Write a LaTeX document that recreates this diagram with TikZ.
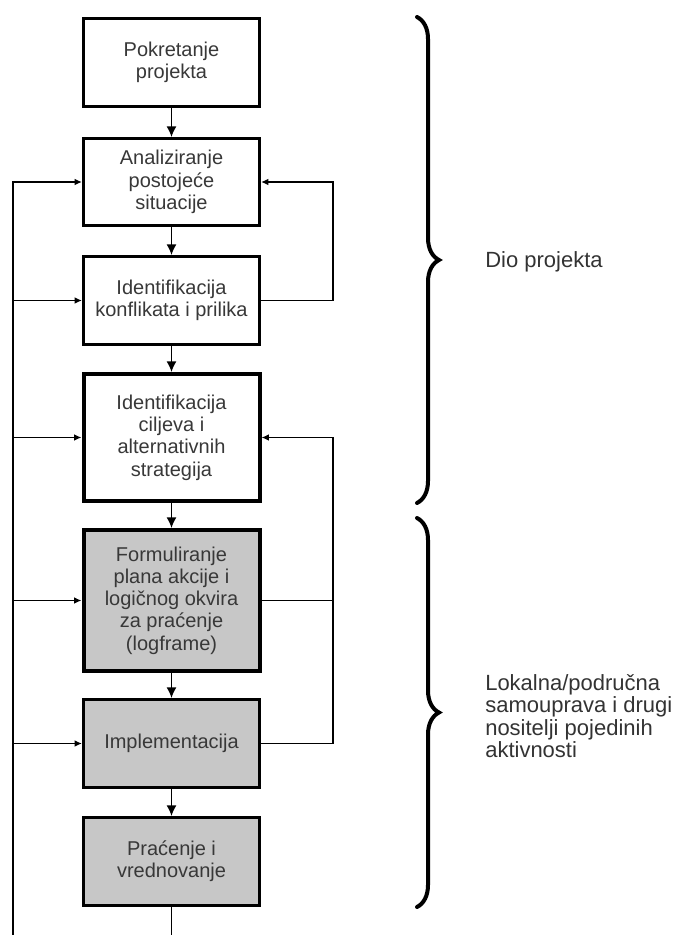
\documentclass[tikz,border=0pt]{standalone}
\usepackage{fontspec}
\setmainfont{Liberation Sans}
\usetikzlibrary{arrows.meta,decorations.pathreplacing}
\begin{document}
\begin{tikzpicture}[x=0.75pt,y=-0.75pt,line join=miter,
  stage/.style={draw=black,line width=2.25pt,minimum width=132pt,minimum height=66pt,
    inner sep=0pt,align=center,text=black!78,font=\fontsize{15}{16.7}\selectfont},
  stagegray/.style={stage,fill=black!22},
  flow/.style={line width=1.1pt,-{Latex[length=8pt,width=7.5pt]}},
  feed/.style={line width=1.1pt,-{Latex[length=5.5pt,width=5pt]}},
  link/.style={line width=1.1pt},
  bracket/.style={line width=3pt,line cap=round,decorate,
    decoration={brace,amplitude=16.5pt,aspect=0.5}},
  side/.style={anchor=west,inner sep=0pt,align=left,text=black!80,
    font=\fontsize{16.5}{16.9}\selectfont}]
  \useasboundingbox (0,0) rectangle (679,935);
  % main chain
  \node[stage] (b1) at (171.5,62.5) {Pokretanje\\projekta};
  \node[stage,minimum height=65.25pt] (b2) at (171.5,182) {Analiziranje\\postoje\'{c}e\\situacije};
  \node[stage] (b3) at (171.5,300.5) {Identifikacija\\konflikata i prilika};
  \node[stage,line width=3pt,minimum height=95.25pt] (b4) at (171.5,437.5)
    {Identifikacija\\ciljeva i\\alternativnih\\strategija};
  \node[stagegray,line width=3pt,minimum height=105.75pt] (b5) at (171.5,600.5)
    {Formuliranje\\plana akcije i\\logi\v{c}nog okvira\\za pra\'{c}enje\\(logframe)};
  \node[stagegray] (b6) at (171.5,743.5) {Implementacija};
  \node[stagegray] (b7) at (171.5,861.5) {Pra\'{c}enje i\\vrednovanje};
  \foreach \a/\b in {b1/b2,b2/b3,b3/b4,b4/b5,b5/b6,b6/b7}
    \draw[flow] (\a) -- (\b);
  % return line on the left
  \coordinate (lbot) at (13,935);
  \draw[feed] (lbot) |- (b2.west);
  \foreach \b in {b3,b4,b5,b6}
    \draw[feed] (\b.west -| lbot) -- (\b.west);
  \draw[link] (b7.south) -- (b7.south |- lbot);
  % feedback on the right
  \coordinate (rx) at (333,0);
  \draw[feed] (b3.east) -- (b3.east -| rx) |- (b2.east);
  \draw[feed] (b6.east) -- (b6.east -| rx) |- (b4.east);
  \draw[link] (b5.east) -- (b5.east -| rx);
  % braces and labels
  \coordinate (t1) at (417,17);
  \coordinate (e1) at (417,503);
  \coordinate (t2) at (417,518);
  \coordinate (e2) at (417,907);
  \draw[bracket] (t1) -- (e1);
  \draw[bracket] (t2) -- (e2);
  \node[side] (l1) at (485,262) {Dio projekta};
  \node[side] (l2) at (485,716) {Lokalna/podru\v{c}na\\samouprava i drugi\\nositelji pojedinih\\aktivnosti};
\end{tikzpicture}
\end{document}
